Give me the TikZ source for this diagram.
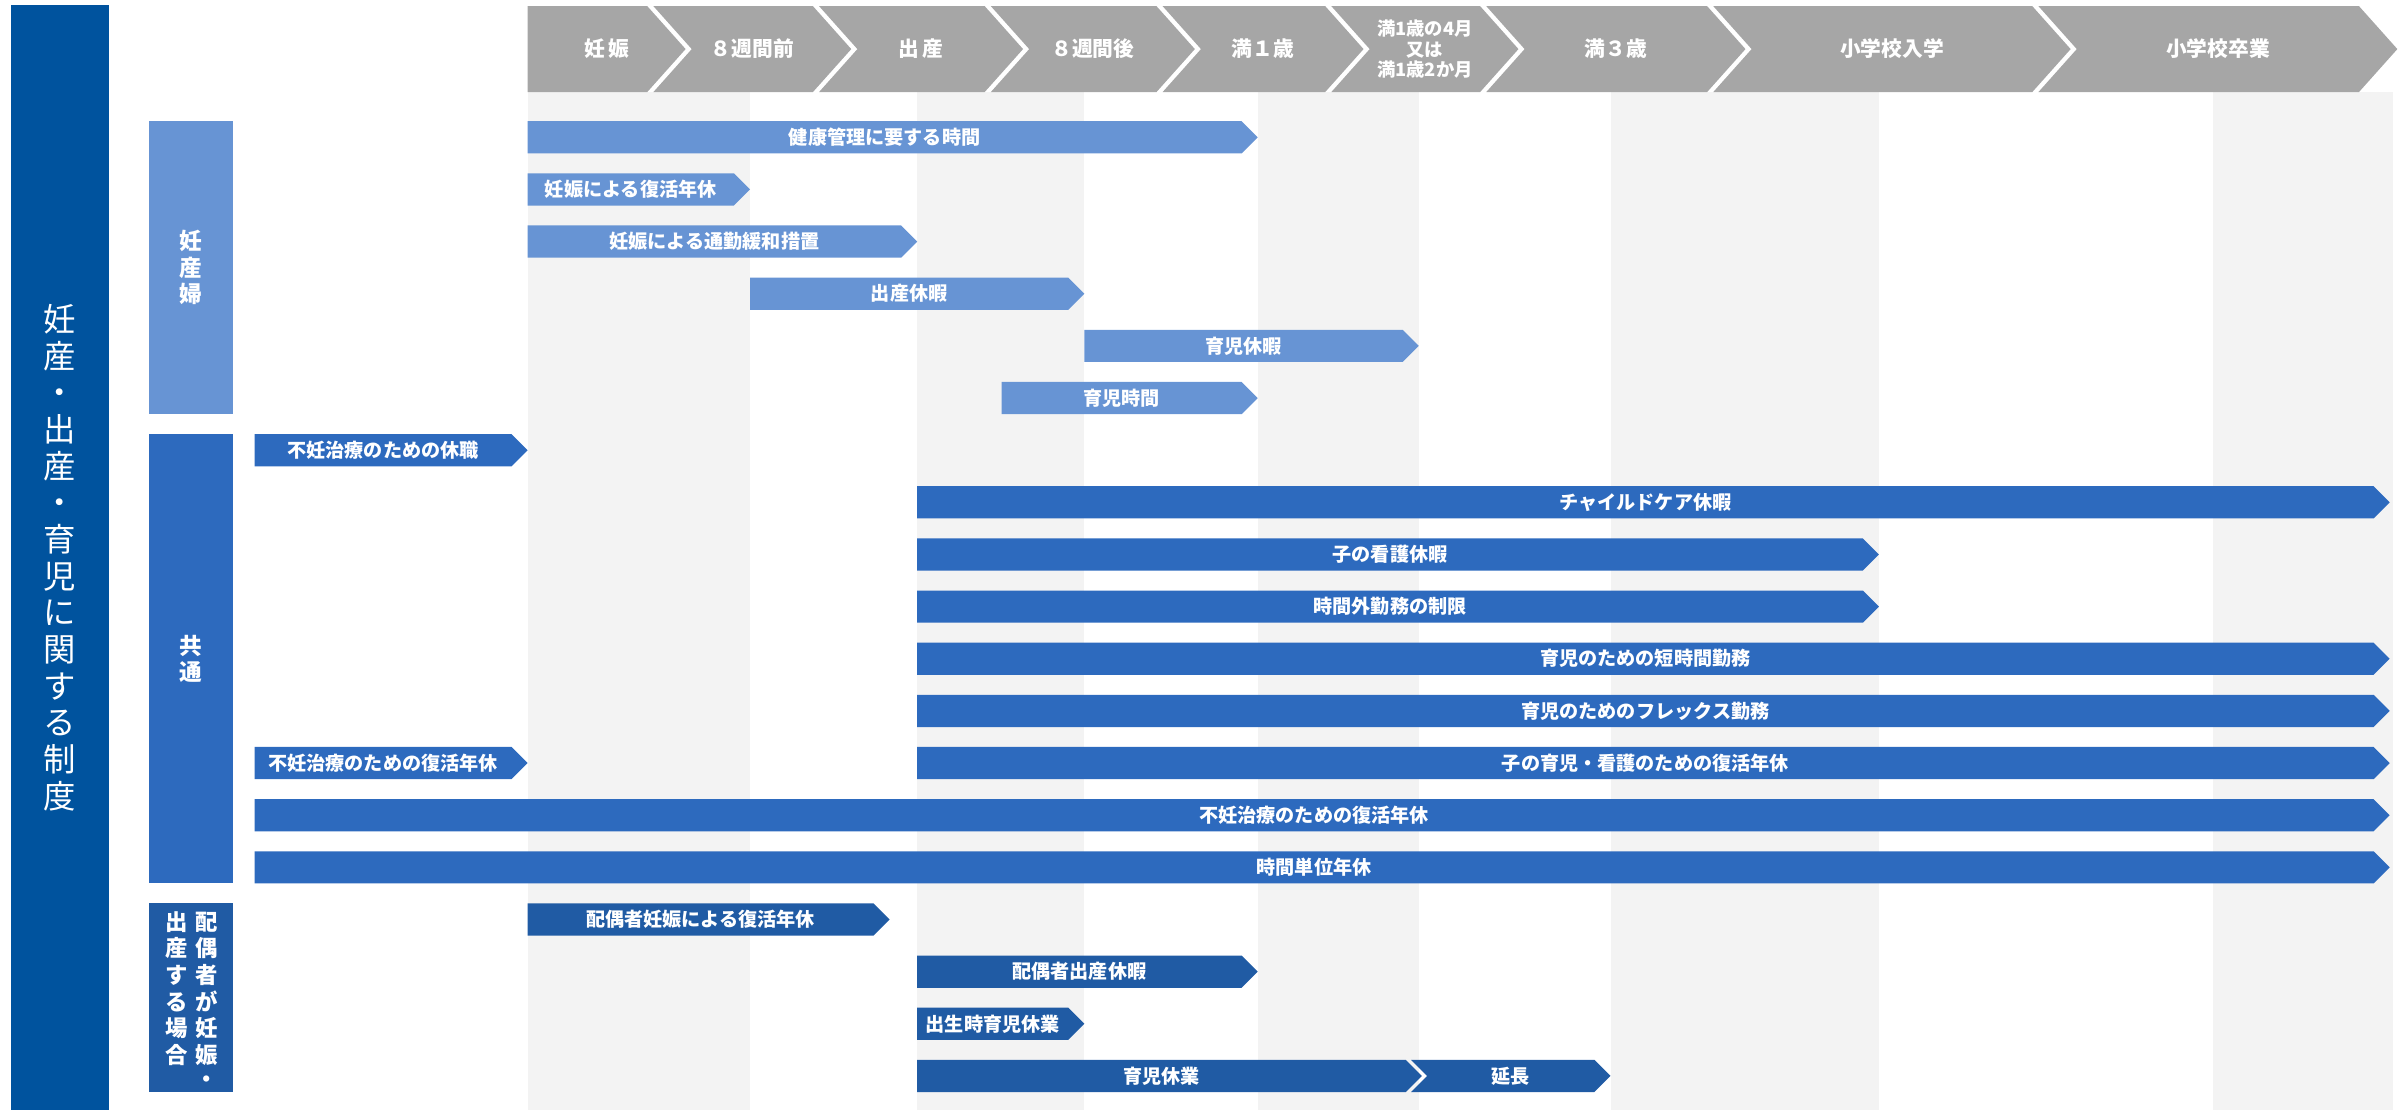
\documentclass[tikz,border=0pt]{standalone}
\usepackage{fontspec}
\setmainfont{Noto Sans CJK JP}

\definecolor{mainblue}{RGB}{0,83,158}
\definecolor{pregblue}{RGB}{103,148,212}
\definecolor{commblue}{RGB}{45,106,190}
\definecolor{spouseblue}{RGB}{32,91,164}
\definecolor{stagegray}{RGB}{166,166,166}
\definecolor{stripegray}{RGB}{243,243,243}

% bar with an arrow tip: name, style, left x, tip x, row y, text
\newcommand{\planbar}[6]{%
  \fill[#2] (#3,#5-10.5) -- (#4-10.5,#5-10.5) -- (#4,#5) -- (#4-10.5,#5+10.5) -- (#3,#5+10.5) -- cycle;
  \node[bartext] (#1) at ({(#3+#4-10.5)/2},#5) {#6};}
% same, with a notch on the left
\newcommand{\notchbar}[6]{%
  \fill[#2] (#3,#5-10.5) -- (#4-10.5,#5-10.5) -- (#4,#5) -- (#4-10.5,#5+10.5) -- (#3,#5+10.5) -- (#3+10.5,#5) -- cycle;
  \node[bartext] (#1) at ({(#3+10.5+#4-10.5)/2},#5) {#6};}
% header chevron: name, text style, left x, tip x, notch depth, text
\newcommand{\stagechev}[6]{%
  \fill[stagegray] (#3,4) -- (#4-25,4) -- (#4,32) -- (#4-25,60) -- (#3,60) -- (#3+#5,32) -- cycle;
  \node[#2] (#1) at ({(#3+#4)/2},32) {#6};}

\begin{document}
\begin{tikzpicture}[x=0.2mm,y=-0.2mm]
  \tikzstyle{bartext}=[text=white,inner sep=0pt,font=\fontsize{7.1}{8}\selectfont\bfseries]
  \tikzstyle{stagetext}=[text=white,inner sep=0pt,align=center,font=\fontsize{7.7}{8}\selectfont\bfseries]
  \tikzstyle{smallstage}=[stagetext,font=\fontsize{6.8}{7.6}\selectfont\bfseries]
  \tikzstyle{pregbar}=[fill=pregblue]
  \tikzstyle{commbar}=[fill=commblue]
  \tikzstyle{spousebar}=[fill=spouseblue]
  \tikzstyle{stripe}=[fill=stripegray]
  \tikzstyle{groupbox}=[text=white,inner sep=0pt,align=center,minimum width=11mm,font=\fontsize{8.4}{9.8}\selectfont\bfseries]
  \useasboundingbox (0,0) rectangle (1568,724);

  % time columns
  \fill[stripe] (344,60) rectangle (489,724);
  \fill[stripe] (598,60) rectangle (707,724);
  \fill[stripe] (820,60) rectangle (925,724);
  \fill[stripe] (1050,60) rectangle (1225,724);
  \fill[stripe] (1443,60) rectangle (1560,724);

  % title and groups
  \node[fill=mainblue,text=white,inner sep=0pt,align=center,minimum width=12.8mm,minimum height=144.2mm,
        font=\fontsize{12}{13.6}\selectfont] (M) at (39,363.5)
        {妊\\産\\・\\出\\産\\・\\育\\児\\に\\関\\す\\る\\制\\度};
  \node[groupbox,fill=pregblue,minimum height=38.2mm] (G_1) at (124.5,174.5) {妊\\産\\婦};
  \node[groupbox,fill=commblue,minimum height=58.6mm] (G_2) at (124.5,429.5) {共\\通};
  \node[groupbox,fill=spouseblue,minimum height=24.6mm] (G_3) at (124.5,650.5) {};
  \node[groupbox,font=\fontsize{8.3}{9}\selectfont\bfseries] (G_3t) at (125,654)
        {\begin{tabular}{@{}c@{\hspace{2.8pt}}c@{}}出&配\\産&偶\\す&者\\る&が\\場&妊\\合&娠\\&・\end{tabular}};

  % stages
  \stagechev{H_1}{stagetext}{344}{447}{0}{妊\,娠}
  \stagechev{H_2}{stagetext}{426}{555}{25}{８週間前}
  \stagechev{H_3}{stagetext}{534}{667}{25}{出\,産}
  \stagechev{H_4}{stagetext}{646}{779}{25}{８週間後}
  \stagechev{H_5}{stagetext}{758}{889}{25}{満１歳}
  \stagechev{H_6}{smallstage}{868}{990}{25}{満1歳の4月\\又は\\満1歳2か月}
  \stagechev{H_7}{stagetext}{969}{1138}{25}{満３歳}
  \stagechev{H_8}{stagetext}{1117}{1350}{25}{小学校入学}
  \stagechev{H_9}{stagetext}{1329}{1563}{25}{小学校卒業}

  % pregnant women
  \planbar{B_1}{pregbar}{344}{820}{89.5}{健康管理に要する時間}
  \planbar{B_2}{pregbar}{344}{489}{123.5}{妊娠による復活年休}
  \planbar{B_3}{pregbar}{344}{598}{157.5}{妊娠による通勤緩和措置}
  \planbar{B_4}{pregbar}{489}{707}{191.5}{出産休暇}
  \planbar{B_5}{pregbar}{707}{925}{225.5}{育児休暇}
  \planbar{B_6}{pregbar}{653}{820}{259.5}{育児時間}

  % common
  \planbar{C_1}{commbar}{166}{344}{293.5}{不妊治療のための休職}
  \planbar{C_2}{commbar}{598}{1558}{327.5}{チャイルドケア休暇}
  \planbar{C_3}{commbar}{598}{1225}{361.5}{子の看護休暇}
  \planbar{C_4}{commbar}{598}{1225}{395.5}{時間外勤務の制限}
  \planbar{C_5}{commbar}{598}{1558}{429.5}{育児のための短時間勤務}
  \planbar{C_6}{commbar}{598}{1558}{463.5}{育児のためのフレックス勤務}
  \planbar{C_7}{commbar}{166}{344}{497.5}{不妊治療のための復活年休}
  \planbar{C_8}{commbar}{598}{1558}{497.5}{子の育児・看護のための復活年休}
  \planbar{C_9}{commbar}{166}{1558}{531.5}{不妊治療のための復活年休}
  \planbar{C_10}{commbar}{166}{1558}{565.5}{時間単位年休}

  % spouse
  \planbar{S_1}{spousebar}{344}{580}{599.5}{配偶者妊娠による復活年休}
  \planbar{S_2}{spousebar}{598}{820}{633.5}{配偶者出産休暇}
  \planbar{S_3}{spousebar}{598}{707}{667.5}{出生時育児休業}
  \planbar{S_4}{spousebar}{598}{927}{701.5}{育児休業}
  \notchbar{S_5}{spousebar}{920}{1050}{701.5}{延長}
\end{tikzpicture}
\end{document}
